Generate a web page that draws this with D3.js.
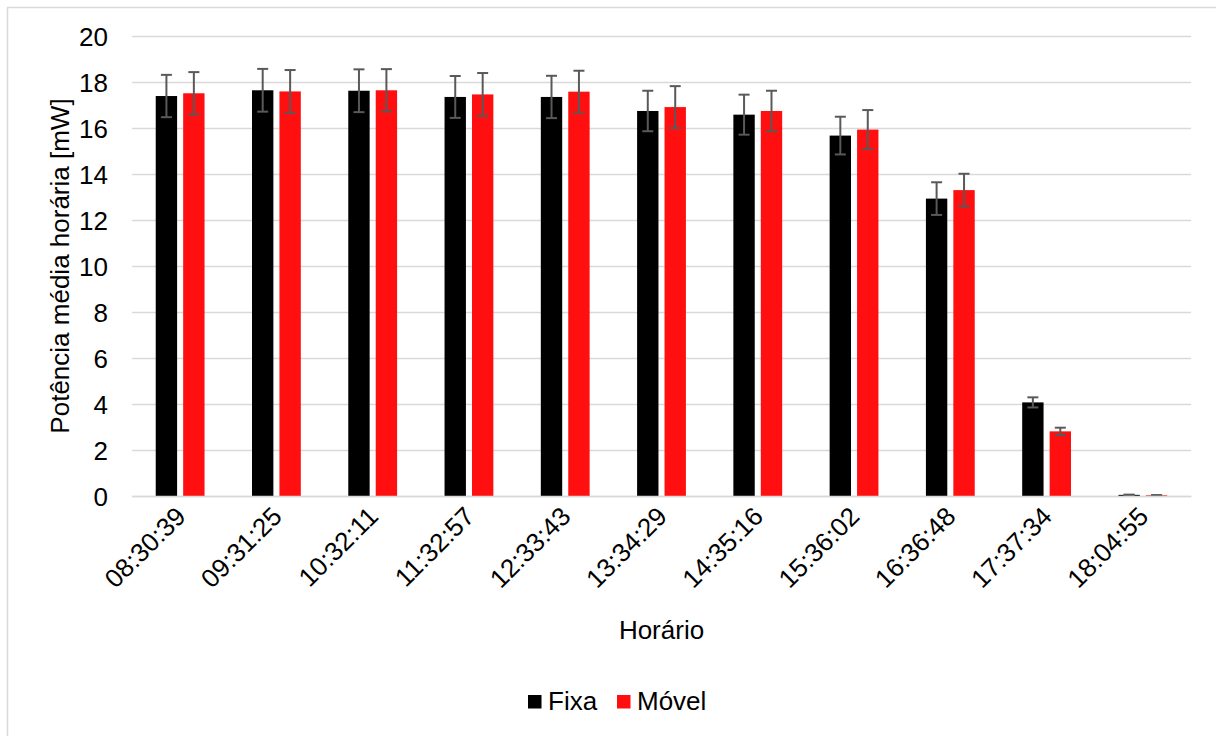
<!DOCTYPE html>
<html>
<head>
<meta charset="utf-8">
<script src="https://cdn.jsdelivr.net/npm/d3@7"></script>
<style>
  html, body { margin: 0; padding: 0; background: #fff; }
  svg { display: block; font-family: "Liberation Sans", Arial, sans-serif; }
</style>
</head>
<body>
<svg id="chart" width="1216" height="736"></svg>
<script>
// Hourly mean power, fixed vs. tracking panel
const categories = ["08:30:39", "09:31:25", "10:32:11", "11:32:57", "12:33:43", "13:34:29",
                    "14:35:16", "15:36:02", "16:36:48", "17:37:34", "18:04:55"];
const seriesNames = ["Fixa", "Móvel"];
const fixaValues  = [17.39, 17.64, 17.62, 17.35, 17.35, 16.74, 16.58, 15.67, 12.93, 4.07, 0.05];
const fixaErrors  = [0.92, 0.93, 0.93, 0.91, 0.92, 0.88, 0.87, 0.82, 0.71, 0.22, 0.01];
const movelValues = [17.51, 17.59, 17.64, 17.46, 17.58, 16.91, 16.74, 15.93, 13.30, 2.81, 0.03];
const movelErrors = [0.92, 0.93, 0.92, 0.93, 0.91, 0.91, 0.88, 0.85, 0.71, 0.16, 0.01];
const yTicks = [0, 2, 4, 6, 8, 10, 12, 14, 16, 18, 20];
const seriesColors = ["#000000", "#ff0f0f"];

const svg = d3.select("#chart");
const margin = { left: 132, right: 1191, top: 36, bottom: 496 };
const fontSize = 26;

// outer chart frame
svg.append("rect")
  .attr("x", 7.5).attr("y", 7.5)
  .attr("width", 1240).attr("height", 760)
  .attr("fill", "#fff").attr("stroke", "#d9d9d9").attr("stroke-width", 1.5);

const x = d3.scaleBand().domain(categories).range([margin.left, margin.right]).padding(0);
const y = d3.scaleLinear().domain([0, 20]).range([margin.bottom, margin.top]);

const band = x.bandwidth();
const barW = band * 0.222;
const barGap = band * 0.063;
const sub = d3.scaleOrdinal().domain(seriesNames)
  .range([-barGap / 2 - barW, barGap / 2]);

// horizontal gridlines
const yAxis = d3.axisLeft(y).tickValues(yTicks).tickSize(-(margin.right - margin.left)).tickPadding(24)
  .tickFormat(d3.format("d"));
const gy = svg.append("g").attr("transform", `translate(${margin.left},0)`).call(yAxis);
gy.select(".domain").remove();
gy.selectAll(".tick line").attr("stroke", "#d9d9d9").attr("stroke-width", 1.5);
gy.selectAll(".tick text")
  .attr("fill", "#000").attr("font-size", fontSize)
  .attr("font-family", "Liberation Sans, Arial, sans-serif")
  .attr("x", -24).attr("dy", "0.36em");

// series data
const data = categories.map((c, i) => ({
  cat: c,
  items: [
    { name: "Fixa", value: fixaValues[i], err: fixaErrors[i], color: seriesColors[0] },
    { name: "Móvel", value: movelValues[i], err: movelErrors[i], color: seriesColors[1] }
  ]
}));

const groups = svg.append("g").selectAll("g").data(data).join("g")
  .attr("transform", d => `translate(${x(d.cat) + band / 2},0)`);

groups.selectAll("rect").data(d => d.items).join("rect")
  .attr("x", d => sub(d.name))
  .attr("width", barW)
  .attr("y", d => y(d.value))
  .attr("height", d => y(0) - y(d.value))
  .attr("fill", d => d.color);

// error bars
const capW = 11;
const eb = groups.selectAll("g.err").data(d => d.items).join("g").attr("class", "err")
  .attr("transform", d => `translate(${sub(d.name) + barW / 2},0)`);
eb.append("line")
  .attr("x1", 0).attr("x2", 0)
  .attr("y1", d => y(d.value + d.err)).attr("y2", d => y(Math.max(0, d.value - d.err)));
eb.append("line")
  .attr("x1", -capW / 2).attr("x2", capW / 2)
  .attr("y1", d => y(d.value + d.err)).attr("y2", d => y(d.value + d.err));
eb.append("line")
  .attr("x1", -capW / 2).attr("x2", capW / 2)
  .attr("y1", d => y(Math.max(0, d.value - d.err))).attr("y2", d => y(Math.max(0, d.value - d.err)));
eb.selectAll("line").attr("stroke", "#595959").attr("stroke-width", 2);

// x axis with rotated labels
const xAxis = d3.axisBottom(x).tickSize(0).tickPadding(0);
const gx = svg.append("g").attr("transform", `translate(0,${margin.bottom})`).call(xAxis);
gx.select(".domain").attr("stroke", "#d9d9d9").attr("stroke-width", 1.5);
gx.selectAll(".tick text")
  .attr("fill", "#000").attr("font-size", fontSize)
  .attr("font-family", "Liberation Sans, Arial, sans-serif")
  .attr("text-anchor", "end")
  .attr("dy", null).attr("y", 0)
  .attr("transform", "translate(7,22) rotate(-45)");

// axis titles
svg.append("text")
  .attr("x", (margin.left + margin.right) / 2).attr("y", 639)
  .attr("text-anchor", "middle").attr("font-size", fontSize)
  .text("Horário");
svg.append("text")
  .attr("transform", `translate(69,${(margin.top + margin.bottom) / 2}) rotate(-90)`)
  .attr("text-anchor", "middle").attr("font-size", fontSize)
  .text("Potência média horária [mW]");

// legend
const legendItems = [
  { name: seriesNames[0], color: seriesColors[0], x: 528 },
  { name: seriesNames[1], color: seriesColors[1], x: 617 }
];
const lg = svg.append("g").selectAll("g").data(legendItems).join("g")
  .attr("transform", d => `translate(${d.x},0)`);
lg.append("rect").attr("x", 0).attr("y", 695).attr("width", 13.5).attr("height", 13.5)
  .attr("fill", d => d.color);
lg.append("text").attr("x", 20).attr("y", 710).attr("font-size", fontSize)
  .text(d => d.name);
</script>
</body>
</html>
